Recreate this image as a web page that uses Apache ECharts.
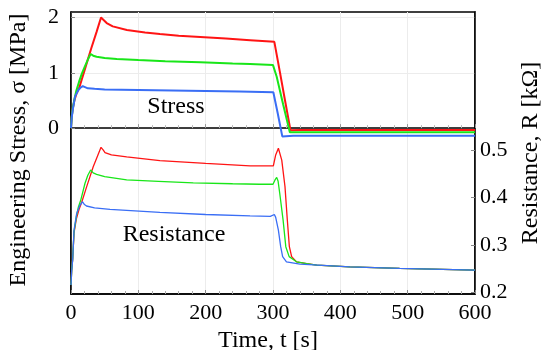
<!DOCTYPE html>
<html>
<head>
<meta charset="utf-8">
<script src="https://cdn.jsdelivr.net/npm/echarts@6/dist/echarts.min.js"></script>
<style>html,body{margin:0;padding:0;background:#fff}#c{width:541px;height:350px}</style>
</head>
<body>
<div id="c"></div>
<script>
// ---- data ----
var xTicks = [0, 100, 200, 300, 400, 500, 600];
var stressTicks = [0, 1, 2];
var resTicks = [0.2, 0.3, 0.4, 0.5];

var redStressT = [0, 1, 2.5, 5, 8, 12, 20, 30, 38, 44.6, 48, 53, 62, 83, 110, 132, 160, 192, 230, 266, 302, 310, 318, 326, 340, 600];
var redStressV = [0, 0.2, 0.35, 0.5, 0.62, 0.72, 1.04, 1.44, 1.74, 2.0, 1.96, 1.9, 1.84, 1.775, 1.73, 1.70, 1.67, 1.65, 1.62, 1.59, 1.56, 1.03, 0.49, -0.04, -0.036, -0.036];

var greenStressT = [0, 1, 2.5, 5, 8, 12, 16, 20, 25, 29.2, 33, 38, 50, 68, 100, 140, 192, 240, 266, 300, 305.5, 315, 325, 340, 600];
var greenStressV = [0, 0.2, 0.35, 0.52, 0.68, 0.84, 0.98, 1.1, 1.24, 1.34, 1.31, 1.29, 1.27, 1.25, 1.23, 1.21, 1.19, 1.17, 1.16, 1.14, 0.93, 0.43, -0.075, -0.075, -0.075];

var blueStressT = [0, 1, 2.5, 6, 10.9, 14, 17.4, 20, 25, 35, 50, 100, 150, 200, 250, 300.5, 307, 313.8, 330, 600];
var blueStressV = [0, 0.18, 0.32, 0.57, 0.69, 0.73, 0.76, 0.74, 0.72, 0.71, 0.70, 0.69, 0.68, 0.67, 0.66, 0.65, 0.27, -0.15, -0.14, -0.14];

var redResT = [0, 1, 2.5, 4.5, 8, 12, 15.9, 23.3, 33, 40, 44.6, 48, 50.5, 60, 82.7, 132, 200, 266, 300.5, 304, 308, 313, 317.8, 321.3, 324.3, 327.7, 335, 350, 365, 414, 488, 600];
var redResV = [0.215, 0.245, 0.27, 0.325, 0.355, 0.375, 0.39, 0.423, 0.465, 0.49, 0.506, 0.5, 0.495, 0.49, 0.486, 0.478, 0.472, 0.467, 0.467, 0.49, 0.504, 0.479, 0.423, 0.352, 0.296, 0.275, 0.264, 0.26, 0.257, 0.2535, 0.25, 0.2465];

var greenResT = [0, 1, 2.5, 4.5, 8, 11, 14.4, 20.8, 25, 29.2, 33, 38, 50, 82.7, 130, 181.6, 240, 280, 300, 303, 305.5, 307.5, 310, 315, 319, 324, 335, 350, 365, 414, 488, 600];
var greenResV = [0.215, 0.245, 0.27, 0.328, 0.36, 0.38, 0.394, 0.43, 0.447, 0.458, 0.452, 0.449, 0.444, 0.437, 0.434, 0.431, 0.429, 0.428, 0.428, 0.437, 0.4425, 0.435, 0.409, 0.352, 0.296, 0.275, 0.264, 0.26, 0.257, 0.2535, 0.25, 0.2465];

var blueResT = [0, 1, 2.5, 4.5, 8.4, 13.4, 17.2, 20, 23, 35, 57.9, 132, 200, 266, 296, 302, 304, 308, 311.4, 314.3, 320, 340, 414, 488, 600];
var blueResV = [0.215, 0.245, 0.268, 0.331, 0.366, 0.384, 0.391, 0.385, 0.382, 0.378, 0.375, 0.3685, 0.364, 0.361, 0.36, 0.364, 0.358, 0.331, 0.296, 0.275, 0.264, 0.259, 0.2535, 0.25, 0.2465];

// ---- build ----
function zip(t, v) { return t.map(function (x, i) { return [x, v[i]]; }); }
var FONT = 'Liberation Serif';
var RED = '#ff1414', GREEN = '#19e619', BLUE = '#3a6ef5';

var chart = echarts.init(document.getElementById('c'), null, { renderer: 'canvas' });
function line(name, t, v, color, width, yi) {
  return {
    name: name, type: 'line', yAxisIndex: yi, xAxisIndex: 0,
    data: zip(t, v), showSymbol: false, symbol: 'none', animation: false,
    lineStyle: { color: color, width: width }, z: 3
  };
}
chart.setOption({
  animation: false,
  grid: { left: 71, right: 66, top: 12, bottom: 56, show: true, borderColor: '#000', borderWidth: 1.5,
    backgroundColor: 'transparent', containLabel: false, outerBoundsMode: 'none' },
  xAxis: [{
    type: 'value', min: 0, max: 600, interval: 100, position: 'bottom',
    axisLine: { onZero: false, lineStyle: { color: '#000', width: 1.5 } },
    axisTick: { inside: true, length: 4, lineStyle: { color: '#888' } },
    minorTick: { show: true, splitNumber: 5, length: 3, lineStyle: { color: '#aaa' } },
    splitLine: { show: true, lineStyle: { color: '#ececec', width: 1 } },
    axisLabel: { fontFamily: FONT, fontSize: 22, color: '#000', margin: 8, customValues: xTicks },
    name: 'Time, t [s]', nameLocation: 'middle', nameGap: 32,
    nameTextStyle: { fontFamily: FONT, fontSize: 24, color: '#000', padding: [0, 10, 0, 0] }
  }, {
    type: 'value', min: 0, max: 600, interval: 100, position: 'bottom',
    gridIndex: 0,
    axisLine: { show: true, onZero: true, onZeroAxisIndex: 0, lineStyle: { color: '#000', width: 1.5 } },
    axisTick: { show: true, inside: true, length: 4, lineStyle: { color: '#999' } },
    minorTick: { show: true, splitNumber: 5, length: 3, lineStyle: { color: '#bbb' } },
    axisLabel: { show: false }, splitLine: { show: false }
  }],
  yAxis: [{
    type: 'value', min: -3, max: 2.1, interval: 1, position: 'left',
    axisLine: { show: true, onZero: false, lineStyle: { color: '#000', width: 1.5 } },
    axisTick: { inside: true, length: 4, customValues: stressTicks, lineStyle: { color: '#888' } },
    splitLine: { show: true, lineStyle: { color: '#ececec', width: 1 } },
    axisLabel: { fontFamily: FONT, fontSize: 22, color: '#000', margin: 12, customValues: stressTicks },
    name: 'Engineering Stress, σ [MPa]', nameLocation: 'middle', nameRotate: 90, nameGap: 40,
    nameTextStyle: { fontFamily: FONT, fontSize: 24, color: '#000', padding: [0, 0, 0, 6] }
  }, {
    type: 'value', min: 0.196, max: 0.792, position: 'right',
    axisLine: { show: true, onZero: false, lineStyle: { color: '#000', width: 1.5 } },
    axisTick: { inside: true, length: 4, customValues: resTicks, lineStyle: { color: '#888' } },
    splitLine: { show: false },
    axisLabel: { fontFamily: FONT, fontSize: 22, color: '#000', margin: 5, customValues: resTicks,
      formatter: function (v) { return v.toFixed(1); } },
    name: 'Resistance, R [kΩ]', nameLocation: 'middle', nameRotate: 90, nameGap: 44,
    nameTextStyle: { fontFamily: FONT, fontSize: 24, color: '#000' }
  }],
  graphic: [
    { type: 'text', x: 176, y: 107, z: 10, style: { text: 'Stress', font: '24px "Liberation Serif"', fill: '#000', align: 'center', verticalAlign: 'middle' } },
    { type: 'text', x: 174, y: 235, z: 10, style: { text: 'Resistance', font: '24px "Liberation Serif"', fill: '#000', align: 'center', verticalAlign: 'middle' } }
  ],
  series: [
    line('redStress', redStressT, redStressV, RED, 2, 0),
    line('greenStress', greenStressT, greenStressV, GREEN, 2, 0),
    line('blueStress', blueStressT, blueStressV, BLUE, 2, 0),
    line('redRes', redResT, redResV, RED, 1.3, 1),
    line('greenRes', greenResT, greenResV, GREEN, 1.3, 1),
    line('blueRes', blueResT, blueResV, BLUE, 1.3, 1)
  ]
});
</script>
</body>
</html>
